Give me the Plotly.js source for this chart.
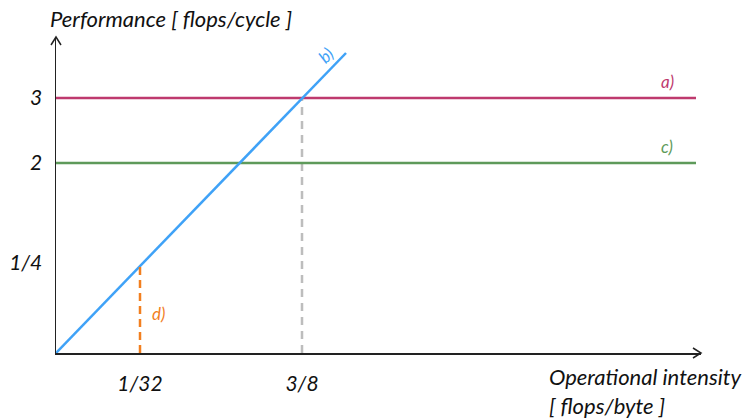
<!DOCTYPE html>
<html><head><meta charset="utf-8">
<script src="https://cdn.plot.ly/plotly-3.0.1.min.js"></script>
<style>html,body{margin:0;padding:0;background:#fff}#chart{width:746px;height:419px}</style>
</head><body><div id="chart"></div>
<script>
// Schematic roofline diagram (positions are schematic units)
const xTickLabels = ['1/32', '3/8'];
const xTickPos = [84, 246];
const yTickLabels = ['1/4', '2', '3'];
const yTickPos = [90, 190, 255];

const roofA = {name: 'a)', y: 255, x: [0, 640]};
const roofC = {name: 'c)', y: 190, x: [0, 640]};
const slopeBX = [0, 290];
const slopeBY = [0, 300];
const dropDX = [84, 84];
const dropDY = [0, 90];
const guideX = [246, 246];
const guideY = [0, 255];

const colA = '#BE3A6E', colB = '#3FA2F7', colC = '#5E9A5A', colD = '#F27F1F', colG = '#BDBDBD';
const F = 'Lato, "Open Sans", sans-serif';

const traces = [
  {x: guideX, y: guideY, mode: 'lines', line: {color: colG, width: 2.5, dash: '8px,6px'}},
  {x: roofC.x, y: [roofC.y, roofC.y], mode: 'lines', line: {color: colC, width: 2.5}},
  {x: roofA.x, y: [roofA.y, roofA.y], mode: 'lines', line: {color: colA, width: 2.5}},
  {x: slopeBX, y: slopeBY, mode: 'lines', line: {color: colB, width: 2.5}},
  {x: dropDX, y: dropDY, mode: 'lines', line: {color: colD, width: 2.5, dash: '8px,5px'}}
];

const layout = {
  width: 746, height: 419,
  margin: {l: 56, r: 45, t: 37, b: 66},
  paper_bgcolor: '#fff', plot_bgcolor: '#fff',
  showlegend: false,
  xaxis: {range: [0, 645], showgrid: false, zeroline: false, showline: true, linecolor: '#222', linewidth: 1.5,
          tickvals: xTickPos, ticktext: xTickLabels, ticks: 'outside', ticklen: 11, tickcolor: 'rgba(0,0,0,0)',
          tickfont: {family: F, size: 21, color: '#111', style: 'italic'}, fixedrange: true},
  yaxis: {range: [0, 316], showgrid: false, zeroline: false, showline: true, linecolor: '#222', linewidth: 1.5,
          tickvals: yTickPos, ticktext: yTickLabels, ticks: 'outside', ticklen: 8, tickcolor: 'rgba(0,0,0,0)',
          tickfont: {family: F, size: 21, color: '#111', style: 'italic'}, fixedrange: true},
  shapes: [
    {type: 'path', xref: 'paper', yref: 'paper', xsizemode: 'pixel', ysizemode: 'pixel', xanchor: 1, yanchor: 0,
     path: 'M -8,5 L 0,0 L -8,-5', line: {color: '#222', width: 1.5}},
    {type: 'path', xref: 'paper', yref: 'paper', xsizemode: 'pixel', ysizemode: 'pixel', xanchor: 0, yanchor: 1,
     path: 'M -5,-8 L 0,0 L 5,-8', line: {color: '#222', width: 1.5}}
  ],
  annotations: [
    {xref: 'paper', yref: 'paper', x: -0.012, y: 1.0, yshift: 19, xanchor: 'left', yanchor: 'middle', showarrow: false,
     text: 'Performance [ flops/cycle ]', font: {family: F, size: 22, color: '#111', style: 'italic'}},
    {xref: 'paper', yref: 'paper', x: 0.762, y: 0, yshift: -8, xanchor: 'left', yanchor: 'top', showarrow: false, align: 'left',
     text: 'Operational intensity<br>[ flops/byte ]', font: {family: F, size: 22, color: '#111', style: 'italic'}},
    {xref: 'x', yref: 'y', x: 611, y: roofA.y, yshift: 17, showarrow: false, text: roofA.name,
     font: {family: F, size: 17, color: colA, style: 'italic'}},
    {xref: 'x', yref: 'y', x: 611, y: roofC.y, yshift: 17, showarrow: false, text: roofC.name,
     font: {family: F, size: 17, color: colC, style: 'italic'}},
    {xref: 'x', yref: 'y', x: 269, y: 298, showarrow: false, text: 'b)', textangle: -45,
     font: {family: F, size: 17, color: colB, style: 'italic'}},
    {xref: 'x', yref: 'y', x: 102, y: 40, showarrow: false, text: 'd)',
     font: {family: F, size: 17, color: colD, style: 'italic'}}
  ]
};

Plotly.newPlot('chart', traces, layout, {displayModeBar: false, staticPlot: true});
</script></body></html>
